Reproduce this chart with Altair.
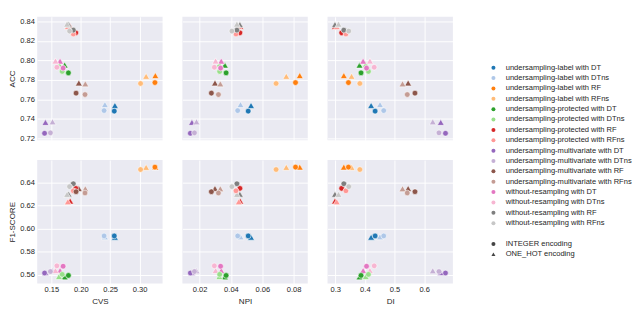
import altair as alt
import pandas as pd

methods = [
    "undersampling-label with DT", "undersampling-label with DTns",
    "undersampling-label with RF", "undersampling-label with RFns",
    "undersampling-protected with DT", "undersampling-protected with DTns",
    "undersampling-protected with RF", "undersampling-protected with RFns",
    "undersampling-multivariate with DT", "undersampling-multivariate with DTns",
    "undersampling-multivariate with RF", "undersampling-multivariate with RFns",
    "without-resampling with DT", "without-resampling with DTns",
    "without-resampling with RF", "without-resampling with RFns",
]
colors = ["#1f77b4", "#aec7e8", "#ff7f0e", "#ffbb78", "#2ca02c", "#98df8a",
          "#d62728", "#ff9896", "#9467bd", "#c5b0d5", "#8c564b", "#c49c94",
          "#e377c2", "#f7b6d2", "#7f7f7f", "#c7c7c7"]
encodings = ["INTEGER encoding", "ONE_HOT encoding"]

acc_int = [0.7480, 0.7485, 0.7773, 0.7764, 0.7873, 0.7888, 0.8285, 0.8273,
           0.7252, 0.7256, 0.7665, 0.7650, 0.7922, 0.7931, 0.8313, 0.8303]
acc_oh = [0.7538, 0.7547, 0.7845, 0.7838, 0.7953, 0.7963, 0.8350, 0.8350,
          0.7364, 0.7370, 0.7770, 0.7760, 0.7994, 0.7996, 0.8370, 0.8375]
f1_int = [0.5937, 0.5937, 0.6533, 0.6512, 0.5595, 0.5604, 0.6349, 0.6328,
          0.5616, 0.5629, 0.6320, 0.6309, 0.5675, 0.5678, 0.6389, 0.6364]
f1_oh = [0.5926, 0.5930, 0.6533, 0.6531, 0.5583, 0.5586, 0.6239, 0.6233,
         0.5620, 0.5636, 0.6348, 0.6346, 0.5638, 0.5638, 0.6298, 0.6297]
cvs_int = [0.2569, 0.2396, 0.3260, 0.3016, 0.1790, 0.1684, 0.1915, 0.1873,
           0.1385, 0.1484, 0.1920, 0.2072, 0.1700, 0.1594, 0.1873, 0.1810]
cvs_oh = [0.2580, 0.2410, 0.3267, 0.3110, 0.1726, 0.1630, 0.1820, 0.1780,
          0.1400, 0.1520, 0.1967, 0.2077, 0.1648, 0.1570, 0.1794, 0.1767]
npi_int = [0.0510, 0.0443, 0.0812, 0.0688, 0.0369, 0.0328, 0.0457, 0.0432,
           0.0141, 0.0167, 0.0275, 0.0320, 0.0334, 0.0294, 0.0438, 0.0406]
npi_oh = [0.0528, 0.0461, 0.0839, 0.0753, 0.0361, 0.0326, 0.0459, 0.0450,
          0.0151, 0.0180, 0.0298, 0.0332, 0.0338, 0.0302, 0.0457, 0.0438]
di_int = [0.4345, 0.4636, 0.3445, 0.3830, 0.3870, 0.4120, 0.3217, 0.3360,
          0.6720, 0.6500, 0.5690, 0.5430, 0.4056, 0.4314, 0.3290, 0.3456]
di_oh = [0.4210, 0.4510, 0.3290, 0.3550, 0.3820, 0.4030, 0.2990, 0.3050,
         0.6560, 0.6290, 0.5460, 0.5270, 0.3940, 0.4170, 0.2990, 0.3110]

rows = []
for i, m in enumerate(methods):
    rows.append(dict(method=m, encoding=encodings[0], ACC=acc_int[i], F1=f1_int[i],
                     CVS=cvs_int[i], NPI=npi_int[i], DI=di_int[i]))
    rows.append(dict(method=m, encoding=encodings[1], ACC=acc_oh[i], F1=f1_oh[i],
                     CVS=cvs_oh[i], NPI=npi_oh[i], DI=di_oh[i]))
df = pd.DataFrame(rows)

xinfo = {
    "CVS": ([0.126, 0.339], [0.15, 0.20, 0.25, 0.30], ".2f"),
    "NPI": ([0.009, 0.089], [0.02, 0.04, 0.06, 0.08], ".2f"),
    "DI": ([0.274, 0.697], [0.3, 0.4, 0.5, 0.6], ".1f"),
}
yinfo = {
    "ACC": ([0.718, 0.845], [0.72, 0.74, 0.76, 0.78, 0.80, 0.82, 0.84], "ACC"),
    "F1": ([0.5525, 0.6594], [0.56, 0.58, 0.60, 0.62, 0.64], "F1-SCORE"),
}

W, H = 133, 131

color_enc = alt.Color("method:N", scale=alt.Scale(domain=methods, range=colors),
                      legend=alt.Legend(title=None, orient="none", legendX=480, legendY=50,
                                        symbolType="circle", symbolSize=18,
                                        symbolStrokeWidth=0, labelFontSize=8,
                                        labelLimit=300, rowPadding=3, labelOffset=9))
shape_enc = alt.Shape("encoding:N", scale=alt.Scale(domain=encodings, range=["circle", "triangle-up"]),
                      legend=alt.Legend(title=None, orient="none", legendX=480, legendY=237,
                                        symbolSize=18, symbolFillColor="#444444",
                                        symbolStrokeWidth=0, labelFontSize=8,
                                        labelLimit=300, rowPadding=3, labelOffset=9))


def panel(xm, ym, show_x, show_y):
    xd, xv, xf = xinfo[xm]
    yd, yv, yt = yinfo[ym]
    xaxis = alt.Axis(values=xv, format=xf, title=xm if show_x else None,
                     labels=show_x, ticks=False, domain=False)
    yaxis = alt.Axis(values=yv, format=".2f", title=yt if show_y else None,
                     labels=show_y, ticks=False, domain=False)
    base = alt.Chart(df).encode(
        x=alt.X(f"{xm}:Q", scale=alt.Scale(domain=xd, nice=False, zero=False), axis=xaxis),
        y=alt.Y(f"{ym}:Q", scale=alt.Scale(domain=yd, nice=False, zero=False), axis=yaxis),
        color=color_enc,
        shape=shape_enc,
    )
    tris = base.transform_filter(alt.datum.encoding == encodings[1]).mark_point(
        filled=True, size=54, stroke="white", strokeWidth=0.6, opacity=1)
    circles = base.transform_filter(alt.datum.encoding == encodings[0]).mark_point(
        filled=True, size=36, stroke="white", strokeWidth=0.6, opacity=1)
    return alt.layer(tris, circles).properties(width=W, height=H)


top = alt.hconcat(*[panel(x, "ACC", False, i == 0) for i, x in enumerate(["CVS", "NPI", "DI"])],
                  spacing=21)
bottom = alt.hconcat(*[panel(x, "F1", True, i == 0) for i, x in enumerate(["CVS", "NPI", "DI"])],
                     spacing=21)
chart = alt.vconcat(top, bottom, spacing=19).properties(
    padding={"left": 0, "top": 0, "right": 0, "bottom": 0}
).configure_view(
    fill="#EAEAF2", stroke=None
).configure_axis(
    gridColor="white", gridWidth=1, labelFont="Liberation Sans", titleFont="Liberation Sans",
    labelFontSize=8, titleFontSize=8.5, labelColor="#262626", titleColor="#262626",
    titleFontWeight="normal", labelPadding=3, titlePadding=3
).configure_legend(
    labelFont="Liberation Sans", labelColor="#262626", padding=0
)

chart.save("out.html", embed_options={"renderer": "svg", "actions": False})
